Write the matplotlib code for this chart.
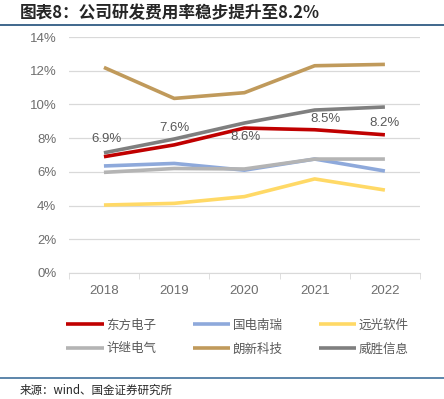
import matplotlib.pyplot as plt
from matplotlib.lines import Line2D
import numpy as np

plt.rcParams['font.family'] = ['Noto Sans CJK SC', 'DejaVu Sans']

years = ['2018', '2019', '2020', '2021', '2022']
dfdz = [6.9, 7.6, 8.6, 8.5, 8.2]        # 东方电子
gdnr = [6.35, 6.5, 6.1, 6.76, 6.05]     # 国电南瑞
ygrj = [4.03, 4.13, 4.53, 5.58, 4.92]   # 远光软件
xjdq = [5.97, 6.2, 6.17, 6.76, 6.76]    # 许继电气
lxkj = [12.2, 10.36, 10.7, 12.3, 12.38] # 朗新科技
wsxx = [7.13, 7.95, 8.9, 9.67, 9.85]    # 威胜信息

names = ['东方电子', '国电南瑞', '远光软件', '许继电气', '朗新科技', '威胜信息']
series = [dfdz, gdnr, ygrj, xjdq, lxkj, wsxx]
colors = ['#C00000', '#8EA9DB', '#FFD966', '#B4B4B4', '#C09A5B', '#7F7F7F']

fig = plt.figure(figsize=(4.44, 3.99), dpi=100)
ax = fig.add_axes([0.155, 0.316, 0.791, 0.591])

x = np.arange(len(years))
lines = {}
for name, vals, c in zip(names, series, colors):
    lines[name], = ax.plot(x, vals, color=c, lw=2.6, solid_capstyle='butt')

# data labels for 东方电子 (offsets in points)
offs = [(2, 13), (0, 12), (1, -6.5), (8, 7.5), (0, 8.5)]
for xi, v, o in zip(x, dfdz, offs):
    ax.annotate(f'{v:.1f}%', (xi, v), xytext=o, textcoords='offset points',
                ha='center', va='center', fontsize=9.5, color='#595959',
                family='Liberation Sans')

ax.set_xlim(-0.5, 4.5)
ax.set_ylim(0, 14)
ax.set_yticks(range(0, 15, 2))
ax.set_yticklabels([f'{v}%' for v in range(0, 15, 2)], family='Liberation Sans')
ax.set_xticks(x)
ax.set_xticklabels(years, family='Liberation Sans')
ax.set_xticks(np.arange(-0.5, 5, 1), minor=True)
ax.tick_params(axis='y', length=0, labelsize=9.5, labelcolor='#6E6E6E', pad=9)
ax.tick_params(axis='x', which='major', length=0, labelsize=9.5, labelcolor='#6E6E6E', pad=9)
ax.tick_params(axis='x', which='minor', length=4, color='#D9D9D9')
ax.grid(axis='y', color='#D9D9D9', lw=0.9)
ax.set_axisbelow(True)
for s in ['top', 'right', 'left']:
    ax.spines[s].set_visible(False)
ax.spines['bottom'].set_color('#D9D9D9')

order = ['东方电子', '许继电气', '国电南瑞', '朗新科技', '远光软件', '威胜信息']
fig.legend([lines[n] for n in order], order, ncol=3, loc='center',
           bbox_to_anchor=(0.535, 0.155), frameon=False, fontsize=9,
           handlelength=3.0, handletextpad=0.2, columnspacing=2.9,
           labelspacing=0.85, labelcolor='#595959')

fig.text(0.045, 0.967, '图表8：公司研发费用率稳步提升至8.2%', fontsize=12,
         fontweight='bold', color='#262626', va='center', style='italic')
fig.add_artist(Line2D([0, 1], [0.937, 0.937], color='#1F4E79', lw=1.2))
fig.add_artist(Line2D([0, 1], [0.053, 0.053], color='#41719C', lw=1.2))
fig.text(0.045, 0.023, '来源：wind、国金证券研究所', fontsize=8.3, color='#262626', va='center')

fig.savefig('out.png', dpi=100)
